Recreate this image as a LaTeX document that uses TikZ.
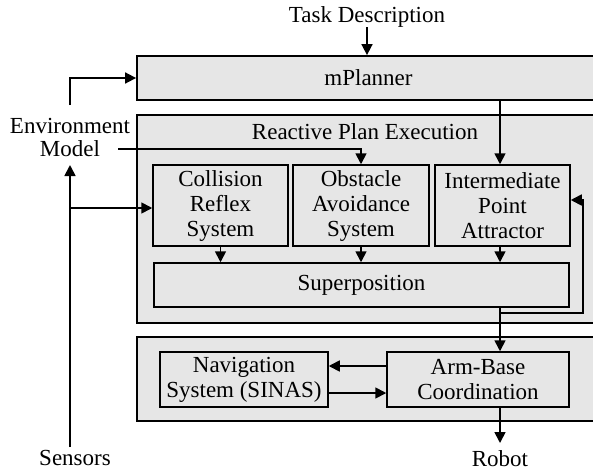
\documentclass[tikz,border=0pt]{standalone}
\usepackage{fontspec}
\setmainfont{Liberation Serif}
\usetikzlibrary{arrows.meta,calc}
\definecolor{boxgray}{HTML}{E6E6E6}
\tikzset{
  x=1pt,y=-1pt,
  every node/.style={font=\fontsize{23}{25}\selectfont, inner sep=0pt, align=center},
  outerbox/.style={draw=black, fill=boxgray, line width=1.8pt, rectangle},
  innerbox/.style={draw=black, fill=boxgray, line width=1.5pt, rectangle},
  conn/.style={line width=1.7pt, -{Triangle[length=11pt,width=11pt]}},
}
\begin{document}
\begin{tikzpicture}
\useasboundingbox (0,0) rectangle (593,474);
\clip (0,0) rectangle (593,474);
% outer boxes
\node[outerbox, minimum width=463, minimum height=44] (mp) at (368.5,78) {mPlanner};
\node[outerbox, minimum width=463, minimum height=208] (rpe) at (368.5,219) {};
\node (rpetitle) at (365,132) {Reactive Plan Execution};
\node[outerbox, minimum width=463, minimum height=84] (low) at (368.5,379) {};
% inner boxes
\node[innerbox, minimum width=135, minimum height=81] (col) at (220.5,205.5) {Collision\\Reflex\\System};
\node[innerbox, minimum width=136, minimum height=81] (obs) at (361,205.5) {Obstacle\\Avoidance\\System};
\node[innerbox, minimum width=135, minimum height=81] (ipa) at (502.5,205.5) {Intermediate\\Point\\Attractor};
\node[innerbox, minimum width=415, minimum height=44] (sup) at (361.5,285) {Superposition};
\node[innerbox, minimum width=168, minimum height=55] (nav) at (244,379.5) {Navigation\\System (SINAS)};
\node[innerbox, minimum width=182, minimum height=55] (arm) at (478,379.5) {Arm-Base\\Coordination};
% external labels
\node (task) at (367,17) {Task Description};
\node[font=\fontsize{23}{23}\selectfont] (env) at (70,137) {Environment\\Model};
\node (sens) at (75,458) {Sensors};
\node (robot) at (500,459) {Robot};
% helper coordinates
\coordinate (xr) at (500,0);
\coordinate (envtop) at (70,105);
\coordinate (envbot) at (70,165);
\coordinate (envright) at (118,149);
\coordinate (senstop) at (70,447);
\coordinate (branch) at (70,208);
\coordinate (fbstart) at (500,313);
\coordinate (fbcorner1) at (583,313);
\coordinate (fbcorner2) at (583,200);
\coordinate (tasktip) at (367,27);
\coordinate (robottip) at (500,443);
% connectors
\draw[conn] (tasktip) -- (tasktip |- mp.north);
\draw[conn] (envtop) |- (mp.west);
\draw[conn] (envright) -| (obs.north);
\draw[conn] (senstop) -- (envbot);
\draw[conn] (branch) -- (branch -| col.west);
\draw[conn] (mp.south -| xr) -- (ipa.north -| xr);
\draw[conn] (col.south) -- (col.south |- sup.north);
\draw[conn] (obs.south) -- (obs.south |- sup.north);
\draw[conn] (ipa.south -| xr) -- (sup.north -| xr);
\draw[conn] (sup.south -| xr) -- (arm.north -| xr);
\draw[conn] (fbstart) -- (fbcorner1) -- (fbcorner2) -- (fbcorner2 -| ipa.east);
\draw[conn] ([yshift=13.5pt]arm.west) -- ([yshift=13.5pt]arm.west -| nav.east);
\draw[conn] ([yshift=-13.5pt]nav.east) -- ([yshift=-13.5pt]nav.east -| arm.west);
\draw[conn] (arm.south -| xr) -- (robottip);
\end{tikzpicture}
\end{document}
